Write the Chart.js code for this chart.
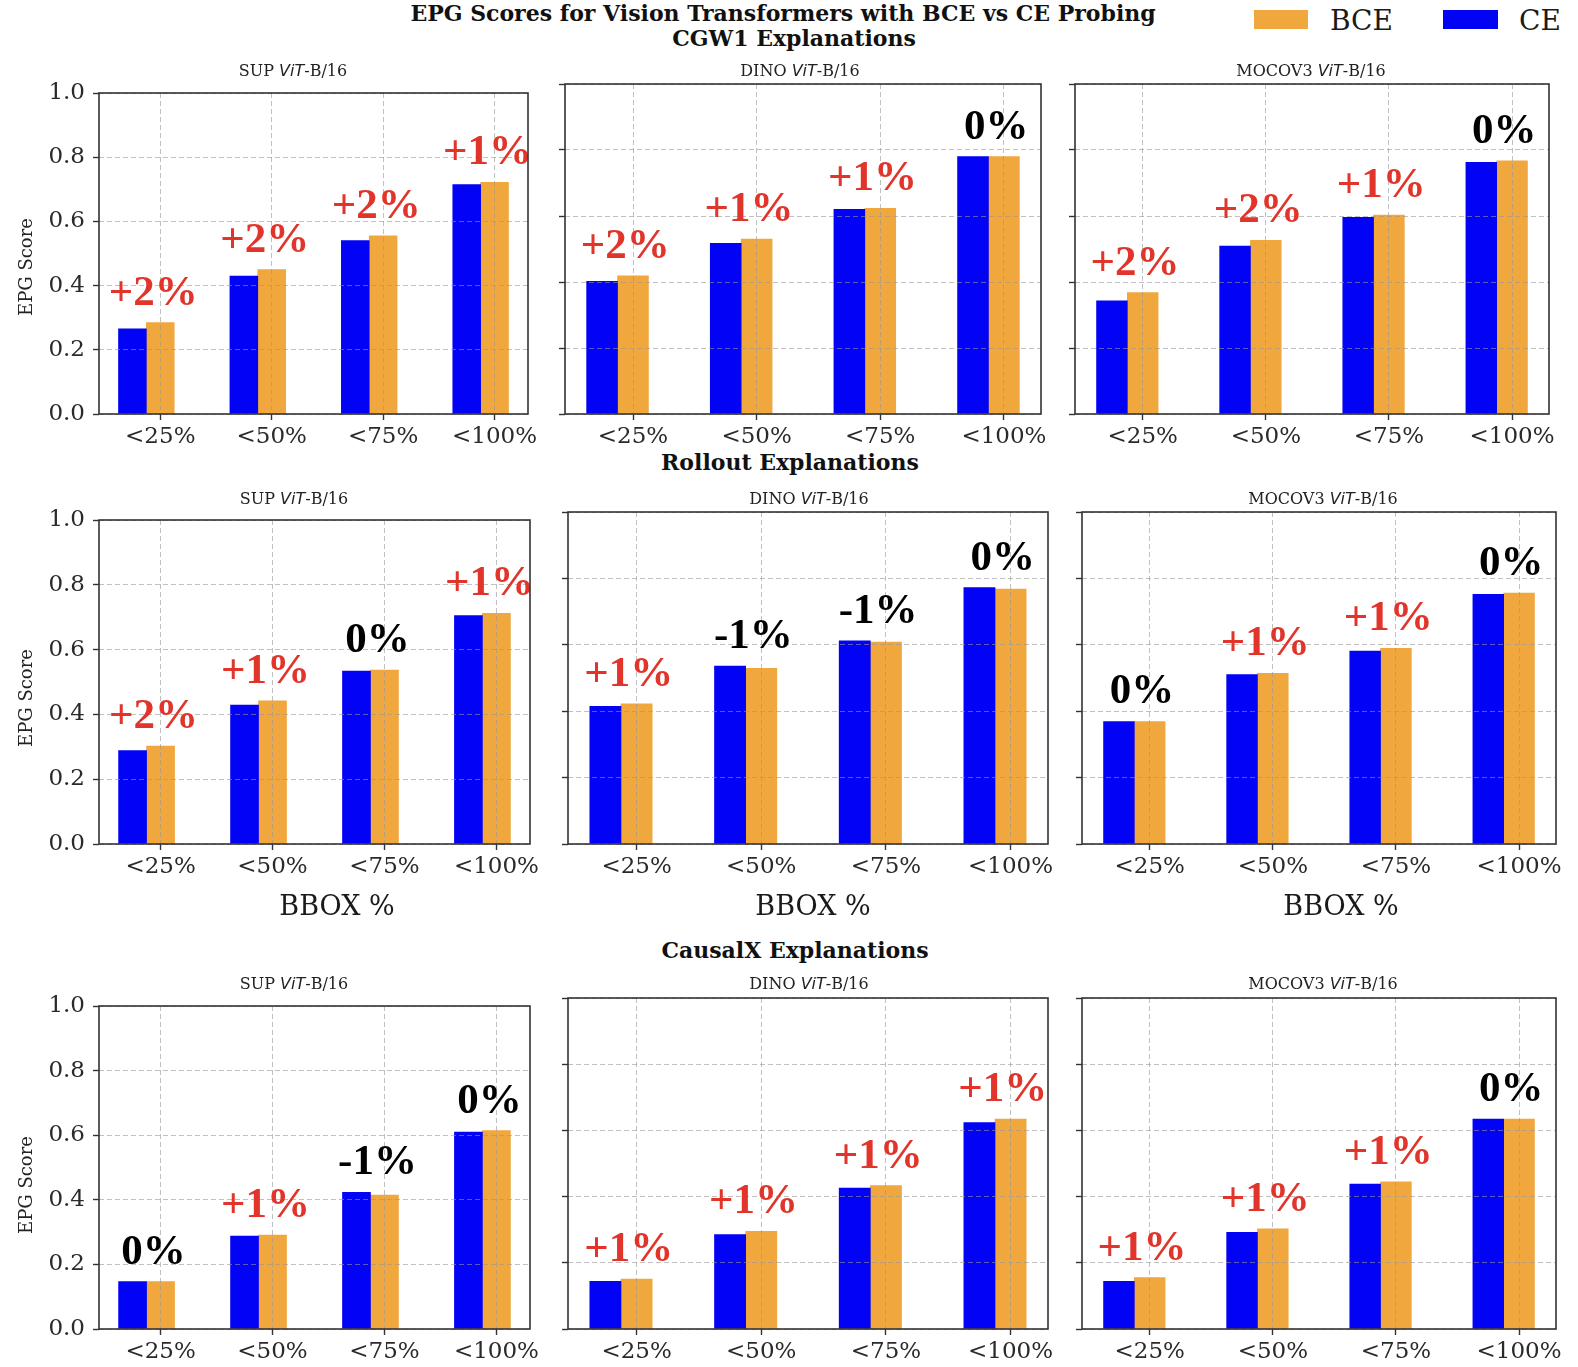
<!DOCTYPE html>
<html><head><meta charset="utf-8">
<script src="https://cdn.jsdelivr.net/npm/chart.js@4.4.1/dist/chart.umd.min.js"></script>
<style>
html,body{margin:0;padding:0;background:#fff;}
body{width:1578px;height:1367px;position:relative;overflow:hidden;}
canvas{position:absolute;}
.t{position:absolute;white-space:nowrap;transform:translate(-50%,-50%);font-family:'DejaVu Serif';color:#111;line-height:1;}
.sw{position:absolute;}
.lg{position:absolute;white-space:nowrap;transform:translateY(-50%);font-family:'DejaVu Serif';font-size:28px;color:#1a1a1a;line-height:1;}
.pre{position:absolute;left:-9999px;top:0;font-family:'Liberation Serif';font-weight:bold;font-size:40px;}
</style></head><body>
<div class="pre">+1% 0% -1%</div>
<div class="t" style="left:783px;top:13px;font-weight:bold;font-size:22px">EPG Scores for Vision Transformers with BCE vs CE Probing</div>
<div class="t" id="sec0" style="left:794px;top:38px;font-weight:bold;font-size:22px"></div>
<div class="t" id="sec1" style="left:790px;top:462px;font-weight:bold;font-size:22px"></div>
<div class="t" id="sec2" style="left:795px;top:950px;font-weight:bold;font-size:22px"></div>
<div class="sw" id="swB" style="left:1254px;top:10px;width:54px;height:19px"></div>
<div class="lg" id="lgB" style="left:1330px;top:21px"></div>
<div class="sw" id="swC" style="left:1443px;top:10px;width:55px;height:19px"></div>
<div class="lg" id="lgC" style="left:1519px;top:21px"></div>
<script>
// ---------------- data ----------------
const categories = ['<25%', '<50%', '<75%', '<100%'];
const yTickValues = [0, 0.2, 0.4, 0.6, 0.8, 1.0];
const seriesNames = ['BCE', 'CE'];
const sectionTitles = ['CGW1 Explanations', 'Rollout Explanations', 'CausalX Explanations'];
const modelNames = ['SUP', 'DINO', 'MOCOV3'];
const yAxisTitle = 'EPG Score';
const xAxisTitle = 'BBOX %';

// CGW1
const cgw1SupCE     = [0.265, 0.430, 0.540, 0.715];
const cgw1SupBCE    = [0.285, 0.450, 0.555, 0.722];
const cgw1SupDelta  = ['+2%', '+2%', '+2%', '+1%'];
const cgw1DinoCE    = [0.402, 0.517, 0.620, 0.780];
const cgw1DinoBCE   = [0.419, 0.530, 0.623, 0.780];
const cgw1DinoDelta = ['+2%', '+1%', '+1%', '0%'];
const cgw1MocoCE    = [0.343, 0.509, 0.596, 0.763];
const cgw1MocoBCE   = [0.368, 0.526, 0.603, 0.767];
const cgw1MocoDelta = ['+2%', '+2%', '+1%', '0%'];
// Rollout
const rolloutSupCE     = [0.288, 0.429, 0.534, 0.705];
const rolloutSupBCE    = [0.302, 0.442, 0.537, 0.712];
const rolloutSupDelta  = ['+2%', '+1%', '0%', '+1%'];
const rolloutDinoCE    = [0.415, 0.536, 0.612, 0.772];
const rolloutDinoBCE   = [0.422, 0.529, 0.608, 0.768];
const rolloutDinoDelta = ['+1%', '-1%', '-1%', '0%'];
const rolloutMocoCE    = [0.369, 0.510, 0.581, 0.752];
const rolloutMocoBCE   = [0.369, 0.514, 0.589, 0.756];
const rolloutMocoDelta = ['0%', '+1%', '+1%', '0%'];
// CausalX
const causalxSupCE     = [0.147, 0.288, 0.423, 0.610];
const causalxSupBCE    = [0.147, 0.291, 0.415, 0.614];
const causalxSupDelta  = ['0%', '+1%', '-1%', '0%'];
const causalxDinoCE    = [0.144, 0.285, 0.426, 0.624];
const causalxDinoBCE   = [0.151, 0.295, 0.433, 0.634];
const causalxDinoDelta = ['+1%', '+1%', '+1%', '+1%'];
const causalxMocoCE    = [0.144, 0.292, 0.438, 0.634];
const causalxMocoBCE   = [0.155, 0.303, 0.445, 0.634];
const causalxMocoDelta = ['+1%', '+1%', '+1%', '0%'];

const sectionData = [
  [[cgw1SupCE, cgw1SupBCE, cgw1SupDelta], [cgw1DinoCE, cgw1DinoBCE, cgw1DinoDelta], [cgw1MocoCE, cgw1MocoBCE, cgw1MocoDelta]],
  [[rolloutSupCE, rolloutSupBCE, rolloutSupDelta], [rolloutDinoCE, rolloutDinoBCE, rolloutDinoDelta], [rolloutMocoCE, rolloutMocoBCE, rolloutMocoDelta]],
  [[causalxSupCE, causalxSupBCE, causalxSupDelta], [causalxDinoCE, causalxDinoBCE, causalxDinoDelta], [causalxMocoCE, causalxMocoBCE, causalxMocoDelta]]
];

// ---------------- layout / style ----------------
const BLUE = '#0202F4', ORANGE = '#F0A73D', RED = '#E1352B';
const ANNOT_FONT = 'bold 43px "Liberation Serif", "Times New Roman", serif';
const BAR_W = 0.25;
const boxes = [
  [{L:99,T:93,R:528,B:414,tx:293,ty:72}, {L:565,T:84,R:1041,B:414,tx:800,ty:72}, {L:1075,T:84,R:1549,B:414,tx:1311,ty:72}],
  [{L:99,T:520,R:530,B:844,tx:294,ty:500,xl:337}, {L:568,T:512,R:1048,B:844,tx:809,ty:500,xl:813}, {L:1082,T:512,R:1556,B:844,tx:1323,ty:500,xl:1341}],
  [{L:99,T:1006,R:530,B:1329,tx:294,ty:985}, {L:568,T:998,R:1048,B:1329,tx:809,ty:985}, {L:1082,T:998,R:1556,B:1329,tx:1323,ty:985}]
];
const yLabelY = [267, 698, 1185];
const xLabelY = 908;

document.getElementById('sec0').textContent = sectionTitles[0];
document.getElementById('sec1').textContent = sectionTitles[1];
document.getElementById('sec2').textContent = sectionTitles[2];
document.getElementById('swB').style.background = ORANGE;
document.getElementById('swC').style.background = BLUE;
document.getElementById('lgB').textContent = seriesNames[0];
document.getElementById('lgC').textContent = seriesNames[1];

function drawPanelTitle(ctx, model, cx, cy) {
  const parts = [
    [model + ' ', '16px "DejaVu Serif"'],
    ['ViT', 'italic 16px "DejaVu Sans"'],
    ['-B/16', '16px "DejaVu Serif"']
  ];
  let total = 0;
  parts.forEach(p => { ctx.font = p[1]; total += ctx.measureText(p[0]).width; });
  let x = cx - total / 2;
  ctx.textAlign = 'left'; ctx.textBaseline = 'middle'; ctx.fillStyle = '#222';
  parts.forEach(p => { ctx.font = p[1]; ctx.fillText(p[0], x, cy); x += ctx.measureText(p[0]).width; });
}

function makeDecor(info) {
  return {
    id: 'decor',
    afterDraw(chart) {
      const {ctx, chartArea: a, scales: {x, y}} = chart;
      const ox = info.ox, oy = info.oy;
      ctx.save();
      // annotations
      ctx.font = ANNOT_FONT;
      ctx.textAlign = 'center'; ctx.textBaseline = 'alphabetic';
      info.delta.forEach((t, i) => {
        const top = Math.max(info.ce[i], info.bce[i]);
        ctx.fillStyle = t.startsWith('+') ? RED : '#000';
        ctx.fillText(t, x.getPixelForValue(i - BAR_W / 4), y.getPixelForValue(top) - 18);
      });
      // spines
      ctx.strokeStyle = '#333'; ctx.lineWidth = 1.6;
      ctx.strokeRect(a.left, a.top, a.right - a.left, a.bottom - a.top);
      // panel title
      drawPanelTitle(ctx, info.model, info.box.tx - ox, info.box.ty - oy);
      // y-axis title
      if (info.col === 0) {
        ctx.save();
        ctx.translate(27 - ox, yLabelY[info.row] - oy);
        ctx.rotate(-Math.PI / 2);
        ctx.font = '18px "DejaVu Serif"'; ctx.fillStyle = '#222';
        ctx.textAlign = 'center'; ctx.textBaseline = 'middle';
        ctx.fillText(yAxisTitle, 0, 0);
        ctx.restore();
      }
      // x-axis title (middle row)
      if (info.row === 1) {
        ctx.font = '27px "DejaVu Serif"'; ctx.fillStyle = '#1a1a1a';
        ctx.textAlign = 'center'; ctx.textBaseline = 'middle';
        ctx.fillText(xAxisTitle, info.box.xl - ox, xLabelY - oy);
      }
      ctx.restore();
    }
  };
}

function build() {
  for (let r = 0; r < 3; r++) {
    for (let c = 0; c < 3; c++) {
      const box = boxes[r][c];
      const [ce, bce, delta] = sectionData[r][c];
      const padL = c === 0 ? box.L : 30;
      const padT = 45, padR = 40, padB = r === 1 ? 85 : 60;
      const ox = box.L - padL, oy = box.T - padT;
      const w = padL + (box.R - box.L) + padR, h = padT + (box.B - box.T) + padB;
      const cv = document.createElement('canvas');
      cv.width = w; cv.height = h;
      cv.style.left = ox + 'px'; cv.style.top = oy + 'px';
      cv.style.width = w + 'px'; cv.style.height = h + 'px';
      document.body.appendChild(cv);
      const info = {ce, bce, delta, box, ox, oy, row: r, col: c, model: modelNames[c]};
      const gridOpts = {z: 1, offset: false, color: 'rgba(150,150,150,0.6)', lineWidth: 1, drawTicks: true,
                        tickLength: 6, tickColor: '#333', tickWidth: 1.4};
      new Chart(cv.getContext('2d'), {
        type: 'bar',
        data: {
          datasets: [
            {label: seriesNames[1], data: ce.map((v, i) => ({x: i - BAR_W, y: v})), backgroundColor: BLUE,
             grouped: false, categoryPercentage: 1, barPercentage: 1, borderWidth: 0},
            {label: seriesNames[0], data: bce.map((v, i) => ({x: i, y: v})), backgroundColor: ORANGE,
             grouped: false, categoryPercentage: 1, barPercentage: 1, borderWidth: 0}
          ]
        },
        options: {
          responsive: false, maintainAspectRatio: false, animation: false, devicePixelRatio: 1,
          layout: {padding: {top: padT, right: padR, left: 0, bottom: 0}},
          plugins: {legend: {display: false}, tooltip: {enabled: false}, title: {display: false}},
          scales: {
            x: {
              type: 'linear', min: -0.55, max: 3.3, offset: false,
              afterBuildTicks: s => { s.ticks = categories.map((_, i) => ({value: i})); },
              afterFit: s => { s.height = padB; },
              ticks: {callback: v => categories[v], autoSkip: false, maxRotation: 0, padding: 3,
                      font: {family: 'DejaVu Serif', size: 23}, color: '#2a2a2a'},
              grid: Object.assign({}, gridOpts),
              border: {display: false, dash: [5, 3]}
            },
            y: {
              type: 'linear', min: 0, max: 1,
              afterBuildTicks: s => { s.ticks = yTickValues.map(v => ({value: v})); },
              afterFit: s => { s.width = padL; },
              ticks: {display: c === 0, callback: v => v.toFixed(1), padding: 8,
                      font: {family: 'DejaVu Serif', size: 23}, color: '#2a2a2a'},
              grid: Object.assign({}, gridOpts),
              border: {display: false, dash: [5, 3]}
            }
          }
        },
        plugins: [makeDecor(info)]
      });
    }
  }
}
if (document.fonts && document.fonts.load) {
  Promise.all([document.fonts.load(ANNOT_FONT, '+1%'), document.fonts.load('16px "DejaVu Serif"'),
               document.fonts.load('italic 16px "DejaVu Sans"')]).then(build, build);
} else { build(); }
</script>
</body></html>
